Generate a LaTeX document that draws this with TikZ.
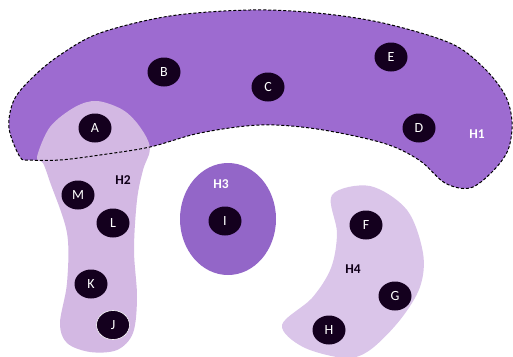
\documentclass[tikz,border=0pt]{standalone}
\usepackage{fontspec}
\setmainfont{Carlito}
\usetikzlibrary{shapes.geometric}
\definecolor{hone}{HTML}{9D6BD0}
\definecolor{htwo}{HTML}{D3B8E3}
\definecolor{hthree}{HTML}{9366C8}
\definecolor{hfour}{HTML}{DAC5E9}
\definecolor{vdark}{HTML}{14001E}
\begin{document}
\begin{tikzpicture}[x=1pt,y=-1pt,
  vert/.style={ellipse,fill=vdark,minimum width=33pt,minimum height=29pt,inner sep=0pt,text=white,font=\fontsize{14}{14}\selectfont},
  hlabw/.style={text=white,font=\fontsize{13.5}{14}\selectfont\bfseries},
  hlabd/.style={text=vdark!80!black,font=\fontsize{13.5}{14}\selectfont\bfseries}]
\useasboundingbox (0,0) rectangle (513,356);
% H1 fill
\def\hone{plot[smooth cycle,tension=0.55] coordinates{(20,157) (9,128) (14,100) (33,77) (60,55) (100,33) (170,16) (250,10) (317,13) (383,23) (450,43) (483,67) (505,95) (512,122) (508,150) (492,172) (470,188) (445,183) (419,160) (383,143) (317,129) (260,125) (200,133) (150,147) (100,155) (60,160) (30,160)}}
\fill[hone] \hone;
% H2
\fill[htwo] plot[smooth cycle,tension=0.55] coordinates{(37,157) (50,127) (75,107) (97,101) (123,110) (140,127) (150,148) (143,170) (137,200) (134,250) (137,297) (133,333) (117,350) (90,352) (67,343) (60,323) (67,283) (67,233) (50,182) (43,163)};
% H1 border
\draw[black,line width=1pt,dash pattern=on 3pt off 2pt] \hone;
% H3
\fill[hthree] (228,219) ellipse[x radius=48,y radius=56];
% H4
\fill[hfour] plot[smooth cycle,tension=0.55] coordinates{(332,195) (370,186) (407,210) (423,253) (420,287) (400,320) (370,350) (345,358) (303,347) (282,325) (312,298) (331,268) (337,233)};
% vertices
\node[vert] (A) at (95,128) {A};
\node[vert] (B) at (164,72) {B};
\node[vert] (C) at (268,87) {C};
\node[vert] (E) at (391,57) {E};
\node[vert] (D) at (419,128) {D};
\node[vert] (M) at (78,195) {M};
\node[vert] (L) at (113,223) {L};
\node[vert] (K) at (91,284) {K};
\node[vert,draw=white,line width=0.6pt] (J) at (113,325) {J};
\node[vert] (I) at (225,221) {I};
\node[vert] (F) at (366,225) {F};
\node[vert] (G) at (395,296) {G};
\node[vert] (H) at (329,330) {H};
% labels
\node[hlabw] (h1) at (477,134) {H1};
\node[hlabd] (h2) at (123,180) {H2};
\node[hlabw] (h3) at (221,184) {H3};
\node[hlabd] (h4) at (353,269) {H4};
\end{tikzpicture}
\end{document}
